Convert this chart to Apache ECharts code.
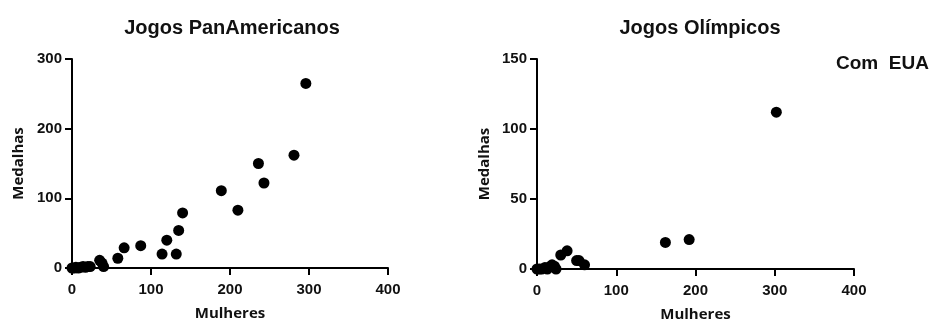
<!DOCTYPE html>
<html>
<head>
<meta charset="utf-8">
<script src="https://cdn.jsdelivr.net/npm/echarts@6/dist/echarts.min.js"></script>
<style>
html,body{margin:0;padding:0;background:#fff;}
#main{width:934px;height:323px;}
</style>
</head>
<body>
<div id="main"></div>
<script>
// Jogos PanAmericanos
var panMulheres = [0,3,5,8,11,14,17,20,23,35,38,40,58,66,87,114,120,132,135,140,189,210,236,243,281,296];
var panMedalhas = [0,0,1,0,1,2,1,2,2,11,7,2,14,29,32,20,40,20,54,79,111,83,150,122,162,265];
// Jogos Olímpicos
var olyMulheres = [0,3,6,10,13,17,19,22,24,30,38,50,53,60,162,192,302];
var olyMedalhas = [0,0,0,1,0,2,3,2,0,10,13,6,6,3,19,21,112];

function pares(xs, ys){
	var out = [];
	for(var i=0;i<xs.length;i++){ out.push([xs[i], ys[i]]); }
	return out;
}

var fonte = "'Liberation Sans', Arial, sans-serif";
var rotulo = {color:'#111', fontSize:15, fontWeight:'bold', fontFamily:fonte};
var linha = {lineStyle:{color:'#000', width:2}};
var tick = {show:true, length:7, lineStyle:{color:'#000', width:2}};

function eixoX(idx){
	return {
		type:'value', gridIndex:idx, min:0, max:400, interval:100,
		name:'Mulheres', nameLocation:'middle', nameGap:38,
		nameTextStyle:{color:'#111', fontSize:15, fontWeight:'bold', fontFamily:"'Open Sans', sans-serif"},
		axisLine:linha, axisTick:tick, splitLine:{show:false},
		axisLabel:Object.assign({margin:14}, rotulo)
	};
}
function eixoY(idx, max, interval){
	return {
		type:'value', gridIndex:idx, min:0, max:max, interval:interval,
		name:'Medalhas', nameLocation:'middle', nameGap:idx===0 ? 46 : 45,
		nameTextStyle:{color:'#111', fontSize:15, fontWeight:'bold', fontFamily:"'Open Sans', sans-serif"},
		axisLine:linha, axisTick:tick, splitLine:{show:false},
		axisLabel:Object.assign({margin:10}, rotulo)
	};
}

var chart = echarts.init(document.getElementById('main'));
var option = {
	animation:false,
	title:[
		{text:'Jogos PanAmericanos', left:227, top:13, textAlign:'center',
		 textStyle:{fontSize:20, fontWeight:'bold', color:'#111', fontFamily:fonte}},
		{text:'Jogos Olímpicos', left:695, top:13, textAlign:'center',
		 textStyle:{fontSize:20, fontWeight:'bold', color:'#111', fontFamily:fonte}},
		{text:'Com  EUA', left:831, top:49,
		 textStyle:{fontSize:19, fontWeight:'bold', color:'#111', fontFamily:fonte}}
	],
	grid:[
		{left:72, top:59, width:316, height:209, outerBoundsMode:'none', containLabel:false},
		{left:537, top:59, width:317, height:210, outerBoundsMode:'none', containLabel:false}
	],
	xAxis:[eixoX(0), eixoX(1)],
	yAxis:[eixoY(0, 300, 100), eixoY(1, 150, 50)],
	series:[
		{type:'scatter', xAxisIndex:0, yAxisIndex:0, symbolSize:11,
		 itemStyle:{color:'#000', opacity:1}, data:pares(panMulheres, panMedalhas)},
		{type:'scatter', xAxisIndex:1, yAxisIndex:1, symbolSize:11,
		 itemStyle:{color:'#000', opacity:1}, data:pares(olyMulheres, olyMedalhas)}
	]
};
chart.setOption(option);
</script>
</body>
</html>
